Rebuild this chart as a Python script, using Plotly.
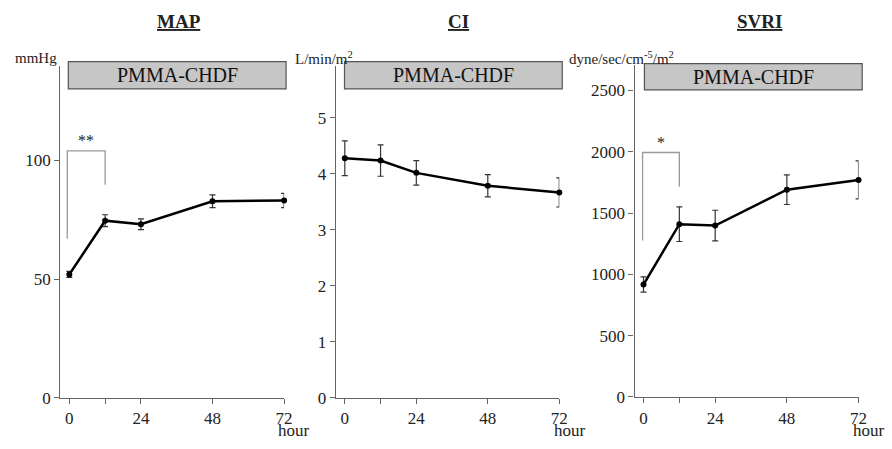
import plotly.graph_objects as go

hours = [0, 12, 24, 48, 72]
x_tickvals = [0, 12, 24, 48, 72]
x_ticktext = ["0", "", "24", "48", "72"]

map_mean = [52, 74.6, 73.1, 82.8, 83.1]
map_sd = [1.3, 2.5, 2.3, 2.7, 3.0]
ci_mean = [4.28, 4.24, 4.02, 3.79, 3.67]
ci_sd = [0.31, 0.28, 0.22, 0.20, 0.26]
svri_mean = [917, 1409, 1398, 1691, 1770]
svri_sd = [62, 141, 125, 121, 155]

titles = ["MAP", "CI", "SVRI"]
units = ["mmHg", "L/min/m<sup>2</sup>", "dyne/sec/cm<sup>-5</sup>/m<sup>2</sup>"]
map_ticks = [0, 50, 100]
ci_ticks = [0, 1, 2, 3, 4, 5]
svri_ticks = [0, 500, 1000, 1500, 2000, 2500]
treatment = "PMMA-CHDF"

W, H = 892, 449
FONT = "Liberation Serif"


def px(x):
    return x / W


def py(y):
    return 1 - y / H


fig = go.Figure()

panels = [
    dict(mean=map_mean, sd=map_sd, ticks=map_ticks, ymax=139.5,
         xdom=(61, 287), ydom=(68, 407), box=(69, 289, 63, 91),
         title_x=181, unit_x=13, hour_x=279),
    dict(mean=ci_mean, sd=ci_sd, ticks=ci_ticks, ymax=5.92,
         xdom=(339.3, 565), ydom=(68, 407), box=(348, 568, 63, 91),
         title_x=463, unit_x=296, hour_x=558),
    dict(mean=svri_mean, sd=svri_sd, ticks=svri_ticks, ymax=2706,
         xdom=(641, 867.3), ydom=(66.7, 406), box=(651, 871, 65, 92),
         title_x=767, unit_x=573, hour_x=860),
]

shapes = []
annotations = []
for i, p in enumerate(panels):
    n = "" if i == 0 else str(i + 1)
    fig.add_trace(go.Scatter(
        x=hours, y=p["mean"], mode="lines+markers",
        line=dict(color="black", width=2.5),
        marker=dict(color="black", size=6),
        error_y=dict(type="data", array=p["sd"], visible=True,
                     color="#333", thickness=1.2, width=3),
        cliponaxis=False, showlegend=False,
        xaxis="x" + n, yaxis="y" + n,
    ))
    axis_common = dict(
        showline=True, linecolor="#666", linewidth=1.3,
        ticks="outside", ticklen=5, tickcolor="#666", tickwidth=1.3,
        showgrid=False, zeroline=False,
        tickfont=dict(family=FONT, size=17, color="#222"),
    )
    fig.update_layout(**{
        "xaxis" + n: dict(domain=[px(p["xdom"][0]), px(p["xdom"][1])],
                          range=[-3, 72], tickvals=x_tickvals, ticktext=x_ticktext,
                          anchor="y" + n, **axis_common),
        "yaxis" + n: dict(domain=[py(p["ydom"][1]), py(p["ydom"][0])],
                          range=[0, p["ymax"]], tickvals=p["ticks"],
                          anchor="x" + n, **axis_common),
    })
    x0, x1, y0, y1 = p["box"]
    shapes.append(dict(type="rect", xref="paper", yref="paper",
                       x0=px(x0), x1=px(x1), y0=py(y1), y1=py(y0),
                       fillcolor="#c6c6c6", line=dict(color="#555", width=1.2)))
    annotations.append(dict(x=px((x0 + x1) / 2), y=py((y0 + y1) / 2), xref="paper", yref="paper",
                            xanchor="center", yanchor="middle",
                            text=treatment, showarrow=False,
                            font=dict(family=FONT, size=20, color="#111")))
    annotations.append(dict(x=px(p["title_x"]), y=py(22), xref="paper", yref="paper",
                            xanchor="center", yanchor="middle",
                            text="<b><u>" + titles[i] + "</u></b>", showarrow=False,
                            font=dict(family=FONT, size=19, color="#222")))
    annotations.append(dict(x=px(p["unit_x"]), y=py(59), xref="paper", yref="paper",
                            xanchor="left", yanchor="middle", text=units[i], showarrow=False,
                            font=dict(family=FONT, size=15, color="#222")))
    annotations.append(dict(x=px(p["hour_x"]), y=py(440), xref="paper", yref="paper",
                            xanchor="left", yanchor="middle", text="hour", showarrow=False,
                            font=dict(family=FONT, size=17, color="#222")))

# significance brackets
bracket_color = "#999"
shapes.append(dict(type="path", xref="x", yref="y",
                   path="M -0.7,67 L -0.7,104 L 12,104 L 12,89.7",
                   line=dict(color=bracket_color, width=1.3)))
annotations.append(dict(x=5.7, y=104, xref="x", yref="y", yanchor="bottom",
                        text="**", showarrow=False,
                        font=dict(family=FONT, size=16, color="#222")))
shapes.append(dict(type="path", xref="x3", yref="y3",
                   path="M -0.3,1276 L -0.3,1994 L 12,1994 L 12,1715",
                   line=dict(color=bracket_color, width=1.3)))
annotations.append(dict(x=5.7, y=1994, xref="x3", yref="y3", yanchor="bottom",
                        text="*", showarrow=False,
                        font=dict(family=FONT, size=16, color="#222")))

fig.update_layout(
    width=W, height=H, margin=dict(l=0, r=0, t=0, b=0),
    paper_bgcolor="white", plot_bgcolor="white",
    shapes=shapes, annotations=annotations,
    font=dict(family=FONT, color="#222"),
)

fig.write_html("out.html", config={"displayModeBar": False},
               post_script="document.body.style.margin='0';document.body.style.overflow='hidden';")
